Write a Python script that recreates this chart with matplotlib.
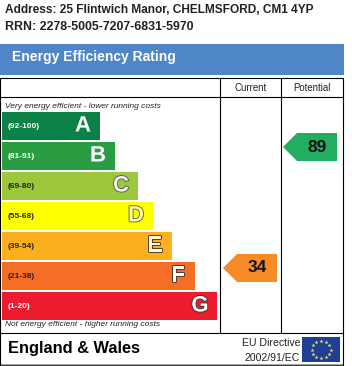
import numpy as np
import matplotlib
matplotlib.use("Agg")
import matplotlib.pyplot as plt
import matplotlib.patheffects as pe
from matplotlib.patches import Rectangle, Polygon

plt.rcParams['font.family'] = ['Liberation Sans', 'DejaVu Sans']

letters = ['A', 'B', 'C', 'D', 'E', 'F', 'G']
ranges = ['(92-100)', '(81-91)', '(69-80)', '(55-68)', '(39-54)', '(21-38)', '(1-20)']
bar_ends = [100, 115, 138, 153, 172, 195, 217]
colors = ['#0B8148', '#2A9D43', '#9DC73C', '#FFFF00', '#FCB01F', '#F56E25', '#EC1C2E']
range_colors = ['white', 'white', '#222222', '#222222', '#222222', '#222222', 'white']
letter_fill = ['white', 'white', '#F2F2F2', '#FFFF99', '#FFF3D0', 'white', 'white']
letter_edge = ['#0B8148', '#2A9D43', '#555555', '#555555', '#333333', '#333333', '#333333']
current_score = 34
potential_score = 89

W, H = 352, 366
fig = plt.figure(figsize=(W / 100, H / 100), dpi=100)
ax = fig.add_axes([0, 0, 1, 1])
ax.set_xlim(0, W)
ax.set_ylim(H, 0)
ax.axis('off')

ax.text(5, 10, 'Address: 25 Flintwich Manor, CHELMSFORD, CM1 4YP', fontsize=8.6,
        fontweight='bold', va='center', color='#222222')
ax.text(5, 27, 'RRN: 2278-5005-7207-6831-5970', fontsize=8.9,
        fontweight='bold', va='center', color='#222222')

ax.add_patch(Rectangle((0, 44), 344, 31, fc='#4F86C6', ec='none'))
ax.text(12, 57, 'Energy Efficiency Rating', fontsize=10, fontweight='bold',
        va='center', color='white')

lw = 0.8
for x0, y0, x1, y1 in [(0, 78.5, 344, 78.5), (0, 97.5, 344, 97.5),
                       (0, 333.5, 344, 333.5), (0, 365.2, 344, 365.2),
                       (0.5, 78.5, 0.5, 365.5), (343.5, 78.5, 343.5, 365.5),
                       (220.5, 78.5, 220.5, 333.5), (281.5, 78.5, 281.5, 333.5)]:
    ax.plot([x0, x1], [y0, y1], color='black', lw=lw, solid_capstyle='butt', snap=False)

ax.text(251, 88, 'Current', fontsize=6.9, ha='center', va='center', color='#222222')
ax.text(312, 88, 'Potential', fontsize=6.9, ha='center', va='center', color='#222222')

ax.text(5, 106, 'Very energy efficient - lower running costs', fontsize=6.05,
        style='italic', va='center', color='#222222')
ax.text(5, 324, 'Not energy efficient - higher running costs', fontsize=6.05,
        style='italic', va='center', color='#222222')

tops = 112 + 30 * np.arange(len(letters))
ax.barh(tops + 14, [e - 2 for e in bar_ends], height=28, left=2, color=colors, edgecolor='none')
for top, end, rng, rc, let, lf, le in zip(tops, bar_ends, ranges, range_colors,
                                          letters, letter_fill, letter_edge):
    ax.text(8, top + 14, rng, fontsize=6, fontweight='bold', va='center', color=rc)
    t = ax.text(end - 17, top + 14, let, fontsize=16, fontweight='bold', ha='center',
                va='center', color=lf)
    t.set_path_effects([pe.withStroke(linewidth=1.2, foreground=le)])


def arrow(x, top, color, label):
    ax.add_patch(Polygon([(x, top + 14), (x + 14, top), (x + 54, top), (x + 54, top + 28),
                          (x + 14, top + 28)], closed=True, fc=color, ec='none'))
    ax.text(x + 34, top + 14, str(label), fontsize=12.5, fontweight='bold', ha='center',
            va='center', color='#111111')


arrow(223, 254, '#F58A27', current_score)
arrow(283, 133, '#21AE60', potential_score)

ax.text(8, 348, 'England & Wales', fontsize=11.8, fontweight='bold', va='center', color='black')
ax.text(300, 343, 'EU Directive', fontsize=7.6, ha='right', va='center', color='#222222')
ax.text(300, 358, '2002/91/EC', fontsize=7.6, ha='right', va='center', color='#222222')

ax.add_patch(Rectangle((302, 337), 38, 25, fc='#1F3F94', ec='none'))
ang = np.deg2rad(np.arange(0, 360, 30))
ax.scatter(321 + 9.5 * np.cos(ang), 349.5 + 8.5 * np.sin(ang), marker='*', s=9,
           color='#F2E85C', linewidths=0)

fig.savefig('out.png', dpi=100)
